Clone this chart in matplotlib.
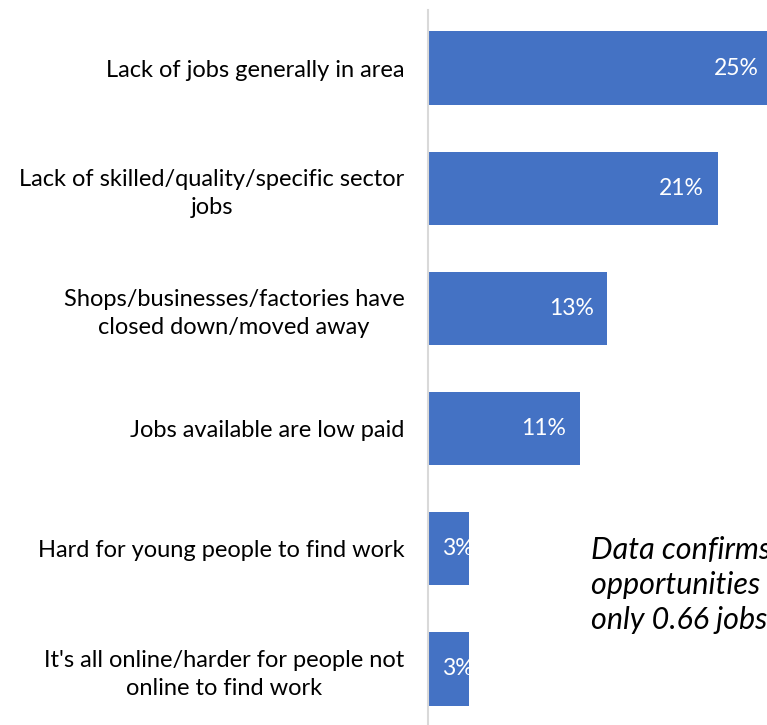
import matplotlib
matplotlib.use("Agg")
import matplotlib.pyplot as plt

plt.rcParams['font.family'] = ['Lato', 'DejaVu Sans']

categories = [
    "Lack of jobs generally in area",
    "Lack of skilled/quality/specific sector\njobs",
    "Shops/businesses/factories have\nclosed down/moved away",
    "Jobs available are low paid",
    "Hard for young people to find work",
    "It's all online/harder for people not\nonline to find work",
]
values = [25, 21, 13, 11, 3, 3]
labels = ["25%", "21%", "13%", "11%", "3%", "3%"]
note = ("Data confirms a lack of good job\n"
        "opportunities in the area \u2013 there are\n"
        "only 0.66 jobs per working-age resident")

W, H = 767, 725
fig = plt.figure(figsize=(W / 100, H / 100), dpi=100)
ax = fig.add_axes([428 / W, 0, 1 - 428 / W, 1 - 10 / H])

pos = list(range(len(values)))
ax.barh(pos, values, height=0.61, color="#4472C4")
ax.set_ylim(5.467, -0.483)
ax.set_xlim(0, (W - 428) / 13.8)

for p, v, lab in zip(pos, values, labels):
    if v < 5:
        ax.text(1.05, p, lab, ha="left", va="center", color="white", fontsize=16.5)
    else:
        ax.text(v - 1.0, p, lab, ha="right", va="center", color="white", fontsize=16.5)

ax.set_yticks(pos)
ax.set_yticklabels(categories, fontsize=17, multialignment="center", linespacing=1.4)
ax.tick_params(axis="y", length=0, pad=17)
ax.set_xticks([])
for s in ["top", "right", "bottom"]:
    ax.spines[s].set_visible(False)
ax.spines["left"].set_color("#d9d9d9")
ax.spines["left"].set_linewidth(1.5)

fig.text(591 / W, 1 - 536 / H, note, ha="left", va="top", fontsize=22,
         style="italic", linespacing=1.3, transform=fig.transFigure)

fig.savefig("out.png", dpi=100)
